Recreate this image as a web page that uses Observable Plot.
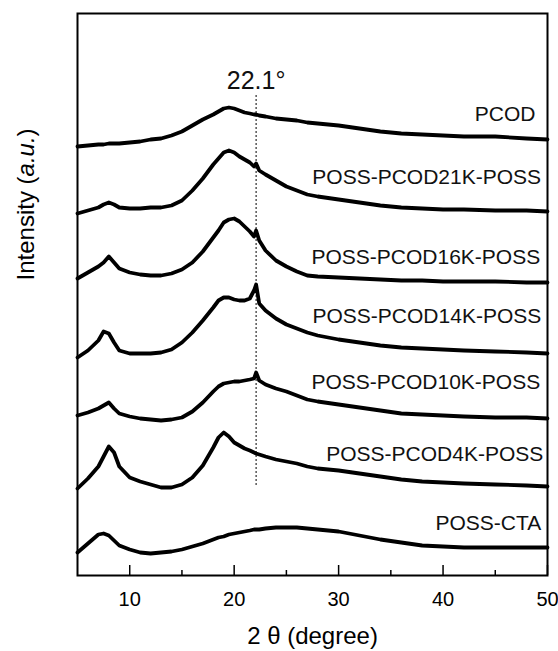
<!DOCTYPE html>
<html><head><meta charset="utf-8">
<script src="https://cdn.jsdelivr.net/npm/d3@7"></script>
<script src="https://cdn.jsdelivr.net/npm/@observablehq/plot@0.6"></script>
<style>body{margin:0;background:#fff} svg{display:block}</style>
</head><body><div id="chart"></div>
<script>
// 2θ sampling positions (degree)
const theta = [5,6,7,7.5,8,8.5,9,10,11,12,13,14,15,16,17,18,18.5,19,19.5,20,20.5,21,21.5,21.9,22.1,22.4,23,24,25,26,27,28,30,32,34,36,38,40,42,45,48,50];

// offset intensities (a.u.), one array per sample
const pcod   = [429,430,431,431,432,432,432,433,434,436,437,440,444,450,456,461,464,467,468,467,465,463,462,461,461,460,459,457,456,455,453,452,450,447,444,442,441,440,439,439,437,436];
const pcod21 = [362,365,368,371,373,371,368,367,367,368,368,370,375,385,397,411,417,423,425,423,419,416,413,409,412,405,401,395,389,385,381,379,376,373,370,368,367,366,366,365,365,364];
const pcod16 = [297,303,309,313,319,313,307,303,301,300,300,302,306,313,324,338,345,353,356,357,354,349,344,339,345,335,325,315,309,304,300,299,298,297,296,295,295,294,294,294,293,293];
const pcod14 = [218,225,235,244,242,233,225,222,222,222,223,226,233,243,255,268,275,278,278,276,275,275,277,285,291,272,265,257,251,247,243,240,236,233,230,228,227,226,225,224,223,222];
const pcod10 = [160,163,167,170,173,167,162,159,157,156,155,156,158,164,173,184,189,192,193,194,194,195,196,197,203,195,191,187,184,180,176,174,171,168,165,162,161,160,159,158,158,157];
const pcod4  = [87,97,109,119,129,123,109,98,94,91,88,88,91,98,110,128,138,143,139,133,130,127,125,123,122,121,119,116,114,112,109,107,105,102,99,96,94,93,92,91,90,89];
const cta    = [23,32,41,42,40,35,30,26,23,22,23,24,26,29,32,36,38,39,41,42,43,44,45,46,46,46,47,48,48,48,47,46,44,40,36,33,30,29,28,28,28,28];

const seriesNames = ["PCOD","POSS-PCOD21K-POSS","POSS-PCOD16K-POSS","POSS-PCOD14K-POSS","POSS-PCOD10K-POSS","POSS-PCOD4K-POSS","POSS-CTA"];
const seriesValues = [pcod, pcod21, pcod16, pcod14, pcod10, pcod4, cta];
const labelLevel = [455, 392, 312, 253, 187, 115, 46];
const labelTheta = [48.85, 49.38, 49.3, 49.4, 49.3, 49.6, 49.4];

const majorTicks = [10,20,30,40,50];
const minorTicks = [15,25,35,45];
const peakTheta = 22.1;
const peakText = "22.1°";
const peakLineRange = [90, 480];
const peakTextLevel = 487;
const xLabel = "2 θ (degree)";
const yLabel = "Intensity (a.u.)";

const rows = seriesNames.flatMap((name, i) => theta.map((t, j) => ({name, theta: t, intensity: seriesValues[i][j]})));
const labels = seriesNames.map((name, i) => ({name, level: labelLevel[i], at: labelTheta[i]}));

const font = "'Liberation Sans', Arial, Helvetica, sans-serif";
const chart = Plot.plot({
  width: 558, height: 651,
  marginTop: 13, marginBottom: 76, marginLeft: 77, marginRight: 11,
  style: {fontFamily: font, background: "#fff", color: "#000"},
  x: {domain: [5, 50], label: null},
  y: {domain: [0, 562], axis: null, label: null},
  marks: [
    Plot.ruleX([peakTheta], {y1: peakLineRange[0], y2: peakLineRange[1], stroke: "#000", strokeWidth: 1, strokeDasharray: "2,2"}),
    Plot.line(rows, {x: "theta", y: "intensity", z: "name", stroke: "#000", strokeWidth: 3.8, strokeLinejoin: "round"}),
    Plot.text(labels, {x: "at", y: "level", text: "name", textAnchor: "end", lineAnchor: "bottom", fontSize: 21, fill: "#111"}),
    Plot.text([peakText], {x: peakTheta, y: peakTextLevel, text: d => d, lineAnchor: "bottom", fontSize: 25, fill: "#111"}),
    Plot.ruleX(majorTicks, {x: d => d, y1: 0, y2: 10, strokeWidth: 1.5}),
    Plot.ruleX(minorTicks, {x: d => d, y1: 0, y2: 5, strokeWidth: 1.5}),
    Plot.axisX(majorTicks, {tickSize: 0, tickPadding: 16, fontSize: 20, label: null}),
    Plot.text([xLabel], {frameAnchor: "bottom", lineAnchor: "bottom", dy: 68, fontSize: 24, text: d => d}),
    Plot.text([yLabel], {frameAnchor: "left", rotate: -90, lineAnchor: "bottom", dx: -44, dy: -14, fontSize: 24, text: d => d}),
    Plot.frame({strokeWidth: 2})
  ]
});
document.getElementById("chart").appendChild(chart);

// italicise "a.u." in the y label
d3.select(chart).selectAll("text").filter(function () { return this.textContent === yLabel; })
  .each(function () {
    const t = d3.select(this);
    t.text(null);
    t.append("tspan").text("Intensity (");
    t.append("tspan").attr("font-style", "italic").text("a.u.");
    t.append("tspan").text(")");
  });
</script>
</body></html>
